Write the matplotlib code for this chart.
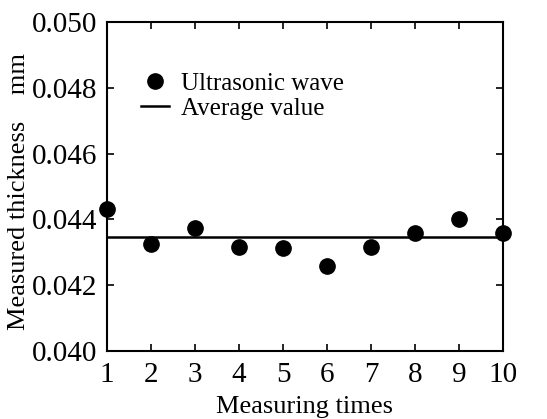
import numpy as np
import matplotlib
matplotlib.use('Agg')
import matplotlib.pyplot as plt

times = [1, 2, 3, 4, 5, 6, 7, 8, 9, 10]
thickness = [0.04433, 0.04324, 0.04374, 0.04317, 0.04312,
             0.04259, 0.04317, 0.04360, 0.04401, 0.04360]
average = np.mean(thickness)

plt.rcParams['font.family'] = ['Liberation Serif', 'DejaVu Serif']

fig = plt.figure(figsize=(5.47, 4.19), dpi=100)
ax = fig.add_axes([107 / 547, 1 - 351 / 419, (503 - 107) / 547, (351 - 22) / 419])

ax.plot(times, thickness, 'o', color='black', markersize=11, clip_on=False,
        zorder=3, label='Ultrasonic wave')
ax.axhline(average, color='black', lw=1.8, label='Average value')

ax.set_xlim(1, 10)
ax.set_ylim(0.040, 0.050)
ax.set_xticks(times)
ax.set_yticks(np.arange(0.040, 0.0501, 0.002))
ax.yaxis.set_major_formatter(matplotlib.ticker.FormatStrFormatter('%.3f'))
ax.tick_params(direction='in', top=True, right=True, length=5, width=1.2,
               labelsize=21)
ax.tick_params(axis='x', pad=8)
ax.tick_params(axis='y', pad=7)
for s in ax.spines.values():
    s.set_linewidth(1.5)

ax.set_xlabel('Measuring times', fontsize=19, labelpad=6)
ax.set_ylabel('Measured thickness    mm', fontsize=19, labelpad=1)
ax.yaxis.label.set_y(0.485)

ax.legend(loc='upper left', bbox_to_anchor=(0.03, 0.915), frameon=False,
          fontsize=18, handlelength=1.1, handletextpad=0.5, labelspacing=0.1)

fig.savefig('out.png', dpi=100)
